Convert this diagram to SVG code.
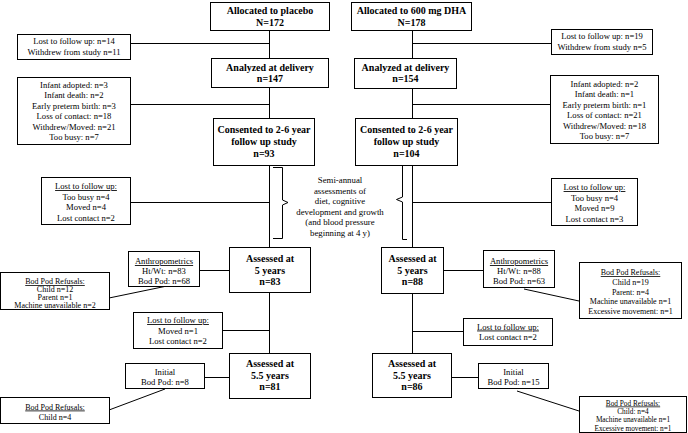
<svg xmlns="http://www.w3.org/2000/svg" width="688" height="433" viewBox="0 0 688 433">
<style>
rect{fill:#fff;stroke:#000;stroke-width:1}
text{font-family:"Liberation Serif","Times New Roman",serif;text-anchor:middle;fill:#000}
.b{font-size:10px;font-weight:bold}
.t{font-size:8.6px}
.s{font-size:8px}
.x{font-size:7.3px}
.u{text-decoration:underline}
#connectors path,#connectors line{stroke:#000;stroke-width:1;fill:none}
</style>
<rect x="0" y="0" width="688" height="433" style="stroke:none"/>
<g id="connectors">
<path d="M269.5 30V58M269.5 87V118M269.5 165V247M269.5 292V353"/>
<path d="M412.5 30V58M412.5 88V118M412.5 165V247M412.5 293V353"/>
<path d="M130 43.5H269.5M130 104.5H269.5M130 202.5H269.5M199 270.5H229M222 330.5H269.5M204 377.5H229"/>
<path d="M412.5 43.5H551M412.5 104.5H550M412.5 202.5H551M443 270.5H483M412.5 331.5H463M451 377.5H478"/>
<path d="M109 298L167 286M109 410L165 389M524 289L579 301M517 391L579 411"/>
<path d="M273 167.5H282.5V200L288 202.5L282.5 205V238.5H273"/>
<path d="M407 163.5H402.5V197L396.5 199.5L402.5 202V239.5H407"/>
</g>
<g id="alloc-placebo"><rect x="210.5" y="2.5" width="119" height="28"/><text class="b" x="270" y="14">Allocated to placebo</text><text class="b" x="270" y="26">N=172</text></g>
<g id="lost-placebo"><rect x="17.5" y="34.5" width="113" height="25"/><text class="t" x="74" y="44">Lost to follow up: n=14</text><text class="t" x="74" y="55">Withdrew from study n=11</text></g>
<g id="analyzed-placebo"><rect x="211.5" y="58.5" width="117" height="29"/><text class="b" x="270" y="70.5">Analyzed at delivery</text><text class="b" x="270" y="82">n=147</text></g>
<g id="drop-placebo"><rect x="17.5" y="77.5" width="113" height="67"/>
<text class="t" x="74" y="87.5">Infant adopted: n=3</text><text class="t" x="74" y="98">Infant death: n=2</text><text class="t" x="74" y="108.5">Early preterm birth: n=3</text><text class="t" x="74" y="119">Loss of contact: n=18</text><text class="t" x="74" y="129.5">Withdrew/Moved:  n=21</text><text class="t" x="74" y="140">Too busy: n=7</text></g>
<g id="consent-placebo"><rect x="213.5" y="118.5" width="101" height="47"/><text class="b" x="264" y="132.5">Consented to 2-6 year</text><text class="b" x="264" y="144.5">follow up study</text><text class="b" x="264" y="156.5">n=93</text></g>
<g id="lost2-placebo"><rect x="41.5" y="177.5" width="89" height="47"/><text class="t u" x="86" y="189">Lost to follow up:</text><text class="t" x="86" y="199.5">Too busy n=4</text><text class="t" x="86" y="210">Moved n=4</text><text class="t" x="86" y="220.5">Lost contact n=2</text></g>
<g id="note"><text style="font-size:8.8px" x="340" y="183">Semi-annual</text><text style="font-size:8.8px" x="340" y="193.6">assessments of</text><text style="font-size:8.8px" x="340" y="204.2">diet, cognitive</text><text style="font-size:8.8px" x="340" y="214.8">development and growth</text><text style="font-size:8.8px" x="340" y="225.4">(and blood pressure</text><text style="font-size:8.8px" x="340" y="236">beginning at 4 y)</text></g>
<g id="a5-placebo"><rect x="229.5" y="247.5" width="81" height="45"/><text class="b" x="270" y="261.5">Assessed at</text><text class="b" x="270" y="273.5">5 years</text><text class="b" x="270" y="285">n=83</text></g>
<g id="anthro-placebo"><rect x="128.5" y="251.5" width="71" height="35"/><text class="t u" x="164" y="264">Anthropometrics</text><text class="t" x="164" y="274">Ht/Wt: n=83</text><text class="t" x="164" y="284">Bod Pod: n=68</text></g>
<g id="refuse-placebo"><rect x="0.5" y="272.5" width="109" height="37"/><text class="s u" x="55" y="284">Bod Pod Refusals:</text><text class="s" x="55" y="292.2">Child n=12</text><text class="s" x="55" y="300">Parent n=1</text><text class="s" x="55" y="307.5">Machine unavailable n=2</text></g>
<g id="lost3-placebo"><rect x="133.5" y="312.5" width="89" height="36"/><text class="t u" x="178" y="323">Lost to follow up:</text><text class="t" x="178" y="333.5">Moved n=1</text><text class="t" x="178" y="344">Lost contact n=2</text></g>
<g id="a55-placebo"><rect x="229.5" y="353.5" width="81" height="45"/><text class="b" x="270" y="366.5">Assessed at</text><text class="b" x="270" y="378.5">5.5 years</text><text class="b" x="270" y="390">n=81</text></g>
<g id="initial-placebo"><rect x="125.5" y="363.5" width="79" height="25"/><text class="t" x="165" y="375">Initial</text><text class="t" x="165" y="385">Bod Pod: n=8</text></g>
<g id="refuse2-placebo"><rect x="0.5" y="397.5" width="109" height="26"/><text class="s u" x="55" y="409.5">Bod Pod Refusals:</text><text class="s" x="55" y="419.5">Child n=4</text></g>
<g id="alloc-dha"><rect x="351.5" y="2.5" width="120" height="28"/><text class="b" x="411.5" y="14">Allocated to 600 mg DHA</text><text class="b" x="411.5" y="26">N=178</text></g>
<g id="lost-dha"><rect x="551.5" y="29.5" width="101" height="25"/><text class="t" x="602" y="39">Lost to follow up: n=19</text><text class="t" x="602" y="50">Withdrew from study n=5</text></g>
<g id="analyzed-dha"><rect x="354.5" y="58.5" width="102" height="30"/><text class="b" x="405.5" y="70.5">Analyzed at delivery</text><text class="b" x="405.5" y="82">n=154</text></g>
<g id="drop-dha"><rect x="550.5" y="75.5" width="108" height="68"/>
<text class="t" x="604.5" y="86.5">Infant adopted: n=2</text><text class="t" x="604.5" y="97">Infant death: n=1</text><text class="t" x="604.5" y="107.5">Early preterm birth: n=1</text><text class="t" x="604.5" y="118">Loss of contact: n=21</text><text class="t" x="604.5" y="128.5">Withdrew/Moved:  n=18</text><text class="t" x="604.5" y="139">Too busy: n=7</text></g>
<g id="consent-dha"><rect x="355.5" y="118.5" width="102" height="47"/><text class="b" x="406.5" y="132.5">Consented to 2-6 year</text><text class="b" x="406.5" y="144.5">follow up study</text><text class="b" x="406.5" y="156.5">n=104</text></g>
<g id="lost2-dha"><rect x="551.5" y="178.5" width="86" height="47"/><text class="t u" x="594.5" y="190">Lost to follow up:</text><text class="t" x="594.5" y="200.5">Too busy n=4</text><text class="t" x="594.5" y="211">Moved n=9</text><text class="t" x="594.5" y="221.5">Lost contact n=3</text></g>
<g id="a5-dha"><rect x="381.5" y="247.5" width="62" height="46"/><text class="b" x="412.5" y="261.5">Assessed at</text><text class="b" x="412.5" y="273.5">5 years</text><text class="b" x="412.5" y="285">n=88</text></g>
<g id="anthro-dha"><rect x="483.5" y="250.5" width="71" height="37"/><text class="t u" x="519" y="264">Anthropometrics</text><text class="t" x="519" y="274">Ht/Wt: n=88</text><text class="t" x="519" y="284">Bod Pod: n=63</text></g>
<g id="refuse-dha"><rect x="579.5" y="262.5" width="102" height="56"/><text class="s u" x="630.5" y="275">Bod Pod Refusals:</text><text class="s" x="630.5" y="285">Child n=19</text><text class="s" x="630.5" y="294.5">Parent: n=4</text><text class="s" x="630.5" y="304">Machine unavailable n=1</text><text class="s" x="630.5" y="313.5">Excessive movement: n=1</text></g>
<g id="lost3-dha"><rect x="463.5" y="318.5" width="89" height="27"/><text class="t u" x="508" y="329.5">Lost to follow up:</text><text class="t" x="508" y="340">Lost contact n=2</text></g>
<g id="a55-dha"><rect x="372.5" y="353.5" width="79" height="44"/><text class="b" x="412" y="366.5">Assessed at</text><text class="b" x="412" y="378.5">5.5 years</text><text class="b" x="412" y="390">n=86</text></g>
<g id="initial-dha"><rect x="478.5" y="363.5" width="70" height="25"/><text class="t" x="513.5" y="375">Initial</text><text class="t" x="513.5" y="385">Bod Pod: n=15</text></g>
<g id="refuse2-dha"><rect x="579.5" y="396.5" width="107" height="36"/><text class="x u" x="633" y="405.5">Bod Pod Refusals:</text><text class="x" x="633" y="413.9">Child: n=4</text><text class="x" x="633" y="422.3">Machine unavailable n=1</text><text class="x" x="633" y="430.7">Excessive movement: n=1</text></g>
</svg>
